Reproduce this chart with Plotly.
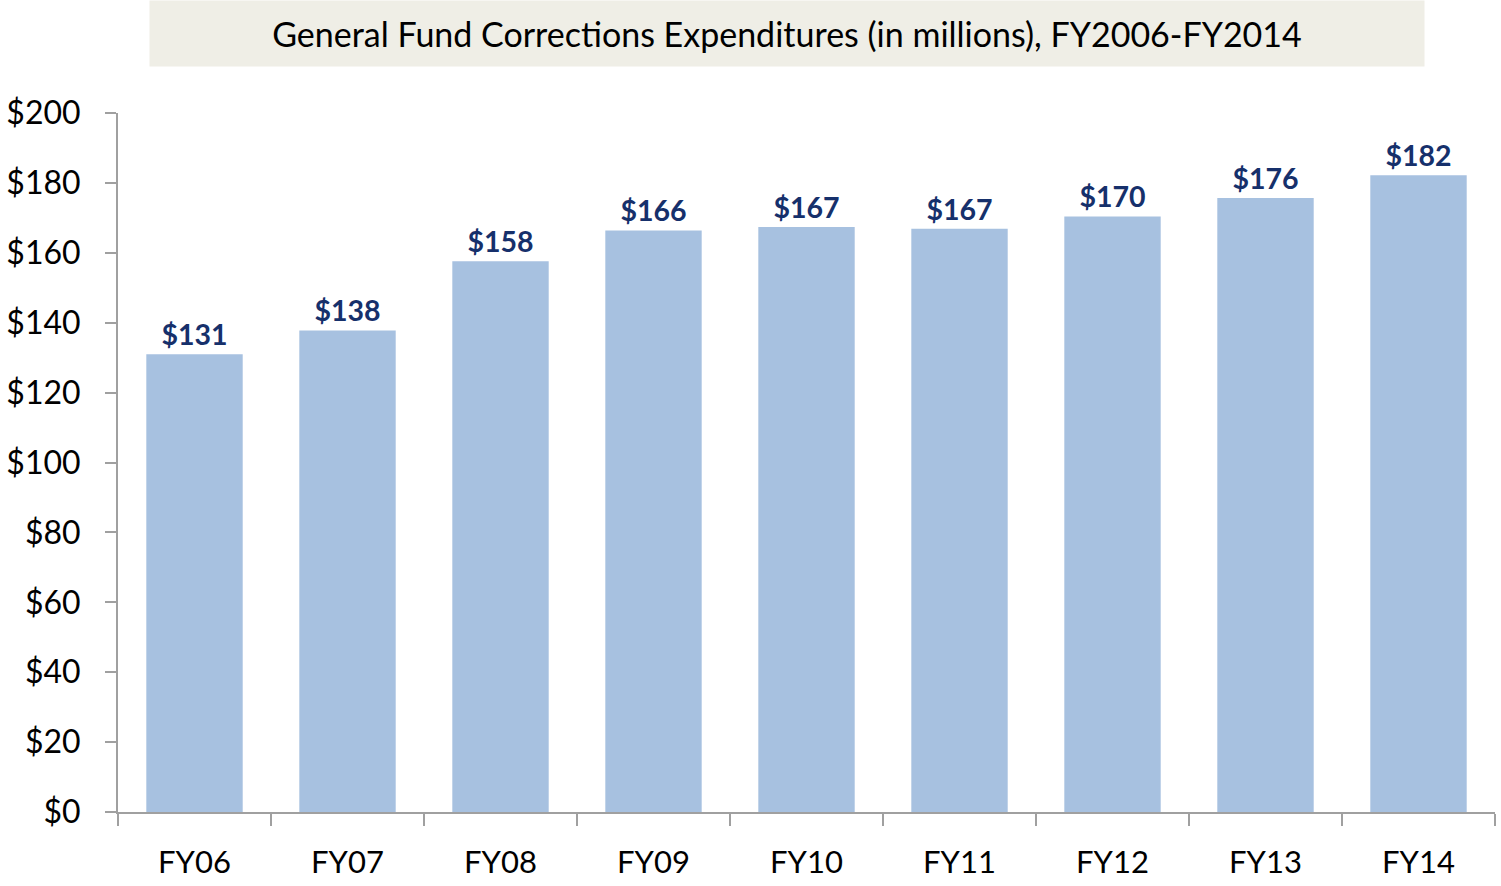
import plotly.graph_objects as go

categories = ["FY06", "FY07", "FY08", "FY09", "FY10", "FY11", "FY12", "FY13", "FY14"]
values = [131.0, 137.8, 157.6, 166.4, 167.4, 166.9, 170.4, 175.7, 182.2]
y_ticks = [0, 20, 40, 60, 80, 100, 120, 140, 160, 180, 200]
y_tick_labels = ["$" + str(v) for v in y_ticks]
title_text = "General Fund Corrections Expenditures (in millions), FY2006-FY2014"

FONT = "Lato, Carlito, 'Open Sans', sans-serif"

fig = go.Figure(
    go.Bar(
        x=categories,
        y=values,
        marker=dict(color="#A7C1E0", line=dict(width=0)),
        text=["$" + f"{v:.0f}" for v in values],
        textposition="outside",
        textfont=dict(family=FONT, size=28.5, color="#16306B", weight="bold"),
        cliponaxis=False,
    )
)

W, H = 1501, 886
ml, mr, mt, mb = 116, 6, 113, 73
pw = W - ml - mr
ph = H - mt - mb

fig.update_layout(
    width=W,
    height=H,
    margin=dict(l=ml, r=mr, t=mt, b=mb),
    plot_bgcolor="white",
    paper_bgcolor="white",
    bargap=0.37,
    showlegend=False,
    font=dict(family=FONT, color="black"),
    xaxis=dict(
        showgrid=False,
        showline=True,
        linecolor="#A0A0A0",
        linewidth=2,
        ticks="outside",
        tickson="boundaries",
        ticklen=12,
        tickwidth=2,
        tickcolor="#A0A0A0",
        tickfont=dict(size=31, family=FONT),
        ticklabelstandoff=22,
    ),
    yaxis=dict(
        range=[0, 200],
        tickvals=y_ticks,
        ticktext=y_tick_labels,
        showgrid=False,
        zeroline=False,
        showline=True,
        linecolor="#A0A0A0",
        linewidth=2,
        ticks="outside",
        ticklen=11,
        tickwidth=2,
        tickcolor="#A0A0A0",
        tickfont=dict(size=32, family=FONT),
        ticklabelstandoff=18,
    ),
    annotations=[
        dict(
            text=title_text,
            xref="paper",
            yref="paper",
            x=(786 - ml) / pw,
            y=1 + (mt - 33.5) / ph,
            xanchor="center",
            yanchor="middle",
            showarrow=False,
            width=1272,
            height=63,
            bgcolor="#EFEEE6",
            font=dict(size=34, family=FONT, color="black"),
        )
    ],
)

fig.write_html(
    "out.html",
    config={"displayModeBar": False},
    post_script="document.body.style.margin='0';document.body.style.overflow='hidden';",
)
